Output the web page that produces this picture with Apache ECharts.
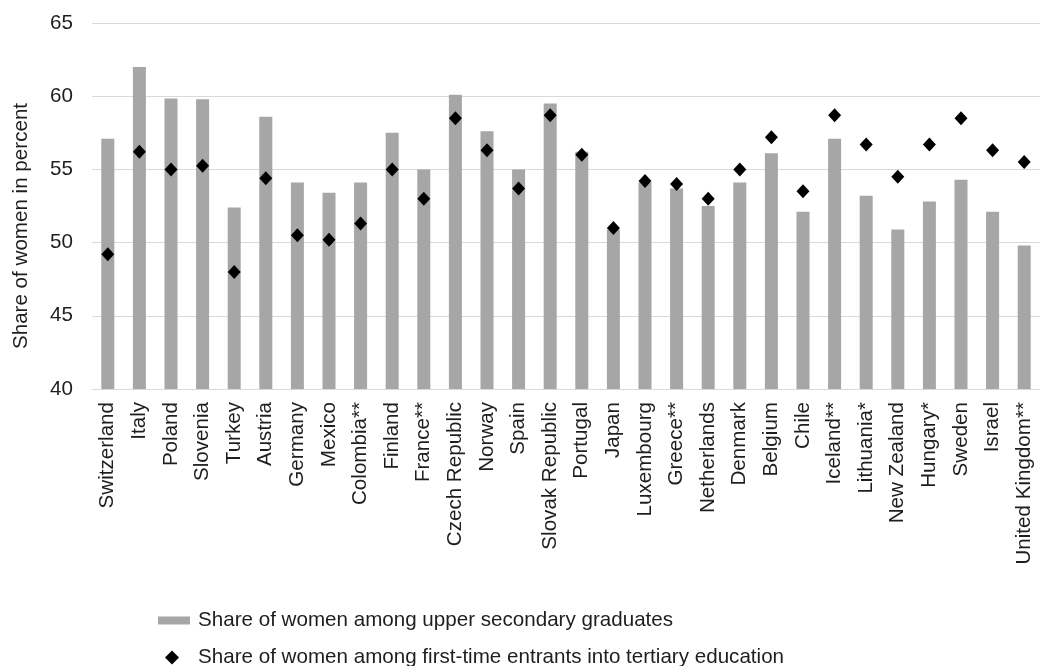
<!DOCTYPE html>
<html>
<head>
<meta charset="utf-8">
<script src="https://cdn.jsdelivr.net/npm/echarts@6/dist/echarts.min.js"></script>
<style>html,body{margin:0;padding:0;background:#fff;}#c{width:1040px;height:666px;}</style>
</head>
<body>
<div id="c"></div>
<script>
var categories = ["Switzerland","Italy","Poland","Slovenia","Turkey","Austria","Germany","Mexico","Colombia**","Finland","France**","Czech Republic","Norway","Spain","Slovak Republic","Portugal","Japan","Luxembourg","Greece**","Netherlands","Denmark","Belgium","Chile","Iceland**","Lithuania*","New Zealand","Hungary*","Sweden","Israel","United Kingdom**"];
var upperSecondary = [57.1,62.0,59.85,59.8,52.4,58.6,54.1,53.4,54.1,57.5,55.0,60.1,57.6,55.0,59.5,56.2,50.9,54.1,53.7,52.5,54.1,56.1,52.1,57.1,53.2,50.9,52.8,54.3,52.1,49.8];
var tertiaryEntrants = [49.2,56.2,55.0,55.25,48.0,54.4,50.5,50.2,51.3,55.0,53.0,58.5,56.3,53.7,58.7,56.0,51.0,54.2,54.0,53.0,55.0,57.2,53.5,58.7,56.7,54.5,56.7,58.5,56.3,55.5];
var yTicks = [40,45,50,55,60,65];
var barName = "Share of women among upper secondary graduates";
var dotName = "Share of women among first-time entrants into tertiary education";

var chart = echarts.init(document.getElementById('c'), null, {renderer:'canvas'});
var font = 'Liberation Sans, Arial, sans-serif';
var txt = '#1e1e1e';
var fs = 20.6;
chart.setOption({
  animation:false,
  textStyle:{fontFamily:font},
  grid:{left:92,right:0,top:23,bottom:277,containLabel:false},
  legend:[
    {data:[barName],left:158,top:610,padding:0,orient:'vertical',itemWidth:32,itemHeight:8,
     textStyle:{fontSize:fs,color:txt,fontFamily:font,padding:[0,0,0,3]},icon:'rect'},
    {data:[dotName],left:165,top:647,padding:0,orient:'vertical',itemWidth:14,itemHeight:14,
     textStyle:{fontSize:fs,color:txt,fontFamily:font,padding:[0,0,0,14]},icon:'diamond'}
  ],
  xAxis:{type:'category',data:categories,
    axisLine:{lineStyle:{color:'#d9d9d9',width:1}},axisTick:{show:false},
    axisLabel:{rotate:90,interval:0,fontSize:fs,color:txt,fontFamily:font,margin:13}},
  yAxis:{type:'value',min:yTicks[0],max:yTicks[yTicks.length-1],interval:5,
    name:'Share of women in percent',nameLocation:'middle',nameGap:60,nameRotate:90,
    nameTextStyle:{fontSize:fs,color:txt,fontFamily:font,padding:[0,40,0,0]},
    axisLine:{show:false},axisTick:{show:false},
    axisLabel:{fontSize:fs,color:txt,fontFamily:font,margin:19},
    splitLine:{lineStyle:{color:'#d9d9d9',width:1}}},
  series:[
    {name:barName,type:'bar',data:upperSecondary,barWidth:13,
     itemStyle:{color:'#a6a6a6'}},
    {name:dotName,type:'scatter',data:tertiaryEntrants,symbol:'diamond',symbolSize:[13,14],
     itemStyle:{color:'#000',opacity:1},z:5}
  ]
});
</script>
</body>
</html>
